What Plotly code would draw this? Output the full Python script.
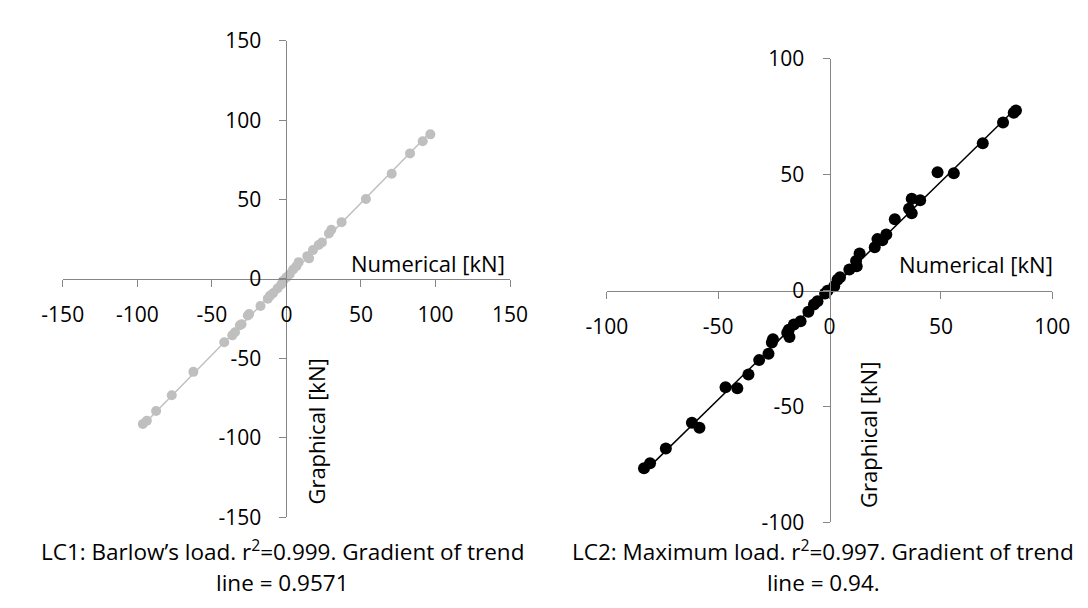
import plotly.graph_objects as go

# ---- data ----
lc1_numerical = [96.5, 91.4, 82.9, 70.6, 53.3, 37.0, 30.1, 28.5, 23.8, 21.6, 17.8, 15.2, 14.0,
                 8.2, 6.7, 4.5, 2.2, 0.0, -2.2, -3.5, -6.0, -9.0, -11.0, -12.5, -17.4, -25.0,
                 -25.9, -30.1, -31.2, -34.5, -36.3, -41.7, -62.4, -76.9, -87.4, -93.6, -96.3]
lc1_graphical = [91.1, 86.7, 79.1, 66.3, 50.4, 35.8, 31.0, 28.6, 23.0, 21.4, 18.2, 13.0, 14.4,
                 10.6, 8.0, 6.0, 3.0, 1.0, -1.1, -3.5, -6.0, -9.0, -10.5, -12.5, -17.0, -22.0,
                 -23.0, -28.5, -29.1, -33.5, -35.5, -39.8, -58.5, -73.2, -83.2, -89.3, -91.3]
lc1_gradient = 0.9571

lc2_numerical = [83.7, 82.7, 77.9, 68.8, 48.5, 55.8, 40.7, 36.9, 35.7, 36.9, 29.3, 25.5, 23.7,
                 21.5, 20.3, 13.5, 11.9, 12.2, 8.9, 4.7, 3.6, 2.1, -0.9, -2.0, -5.4, -7.0, -9.5,
                 -13.0, -16.0, -18.3, -19.0, -18.0, -25.9, -25.4, -27.4, -31.6, -36.4, -41.4,
                 -46.7, -58.4, -61.8, -73.5, -80.6, -83.3]
lc2_graphical = [77.7, 76.7, 72.5, 63.6, 51.0, 50.6, 39.0, 39.6, 35.3, 33.4, 30.8, 24.2, 21.7,
                 22.2, 18.7, 16.0, 12.8, 10.5, 9.1, 5.8, 4.7, 1.9, -0.1, -1.3, -4.6, -6.0, -9.1,
                 -13.2, -14.6, -16.9, -18.2, -20.0, -22.4, -21.0, -27.2, -30.0, -36.2, -42.1,
                 -41.7, -59.2, -57.0, -68.1, -74.5, -76.6]
lc2_gradient = 0.94

lc1_ticks = [-150, -100, -50, 0, 50, 100, 150]
lc2_ticks = [-100, -50, 0, 50, 100]

x_title = "Numerical [kN]"
y_title = "Graphical [kN]"
caption1 = ["LC1: Barlow’s load. r<sup>2</sup>=0.999. Gradient of trend", "line = 0.9571"]
caption2 = ["LC2: Maximum load. r<sup>2</sup>=0.997. Gradient of trend", "line = 0.94."]

# ---- figure ----
W, H = 1088, 608
FONT = "Open Sans, Noto Sans, DejaVu Sans, sans-serif"
AXIS_GREY = "#868686"
LIGHT = "#BFBFBF"


def px_x(p):
    return p / W


def px_y(p):
    return 1 - p / H


dom1x = [px_x(35), px_x(499)]
dom1y = [px_y(518), px_y(18.7)]
dom2x = [px_x(599.3), px_x(1061.3)]
dom2y = [px_y(523.5), px_y(37.5)]

fig = go.Figure()

x1min, x1max = min(lc1_numerical), max(lc1_numerical)
fig.add_trace(go.Scatter(x=[x1min, x1max], y=[lc1_gradient * x1min, lc1_gradient * x1max],
                         mode="lines", line=dict(color=LIGHT, width=1.5),
                         xaxis="x", yaxis="y", showlegend=False, hoverinfo="skip"))
fig.add_trace(go.Scatter(x=lc1_numerical, y=lc1_graphical, mode="markers",
                         marker=dict(color=LIGHT, size=10),
                         xaxis="x", yaxis="y", showlegend=False))

x2min, x2max = min(lc2_numerical), max(lc2_numerical)
fig.add_trace(go.Scatter(x=[x2min, x2max], y=[lc2_gradient * x2min, lc2_gradient * x2max],
                         mode="lines", line=dict(color="black", width=1.5),
                         xaxis="x2", yaxis="y2", showlegend=False, hoverinfo="skip"))
fig.add_trace(go.Scatter(x=lc2_numerical, y=lc2_graphical, mode="markers",
                         marker=dict(color="black", size=12),
                         xaxis="x2", yaxis="y2", showlegend=False))


def axis_common(ticks):
    return dict(tickvals=ticks, ticktext=[str(t) for t in ticks],
                range=[ticks[0], ticks[-1]], showgrid=False, zeroline=False,
                showline=True, linecolor=AXIS_GREY, linewidth=1,
                ticks="outside", ticklen=7, tickcolor=AXIS_GREY, tickwidth=1,
                tickfont=dict(family=FONT, size=21, color="black"),
                fixedrange=True)


fig.update_layout(
    width=W, height=H,
    margin=dict(l=0, r=0, t=0, b=0),
    paper_bgcolor="white", plot_bgcolor="white",
    showlegend=False,
    font=dict(family=FONT, color="black"),
    xaxis=dict(domain=dom1x, anchor="free", position=sum(dom1y) / 2,
               ticklabelstandoff=10, **axis_common(lc1_ticks)),
    yaxis=dict(domain=dom1y, anchor="free", position=sum(dom1x) / 2,
               ticklabelstandoff=14, **axis_common(lc1_ticks)),
    xaxis2=dict(domain=dom2x, anchor="free", position=sum(dom2y) / 2,
                ticklabelstandoff=10, **axis_common(lc2_ticks)),
    yaxis2=dict(domain=dom2y, anchor="free", position=sum(dom2x) / 2,
                ticklabelstandoff=14, **axis_common(lc2_ticks)),
)

annots = [
    dict(text=x_title, x=px_x(496), y=px_y(252), xanchor="right", yanchor="middle",
         font=dict(size=22)),
    dict(text=x_title, x=px_x(1064), y=px_y(253), xanchor="right", yanchor="middle",
         font=dict(size=22)),
    dict(text=y_title, x=px_x(298), y=px_y(428), xanchor="center", yanchor="middle",
         textangle=-90, font=dict(size=22)),
    dict(text=y_title, x=px_x(870), y=px_y(432), xanchor="center", yanchor="middle",
         textangle=-90, font=dict(size=22)),
    dict(text=caption1[0], x=px_x(263), y=px_y(553), xanchor="center", yanchor="middle",
         font=dict(size=22.5)),
    dict(text=caption1[1], x=px_x(263), y=px_y(586), xanchor="center", yanchor="middle",
         font=dict(size=22.5)),
    dict(text=caption2[0], x=px_x(824), y=px_y(553), xanchor="center", yanchor="middle",
         font=dict(size=22.5)),
    dict(text=caption2[1], x=px_x(824), y=px_y(586), xanchor="center", yanchor="middle",
         font=dict(size=22.5)),
]
for a in annots:
    fig.add_annotation(xref="paper", yref="paper", showarrow=False, **a)

fig.write_html("out.html")
